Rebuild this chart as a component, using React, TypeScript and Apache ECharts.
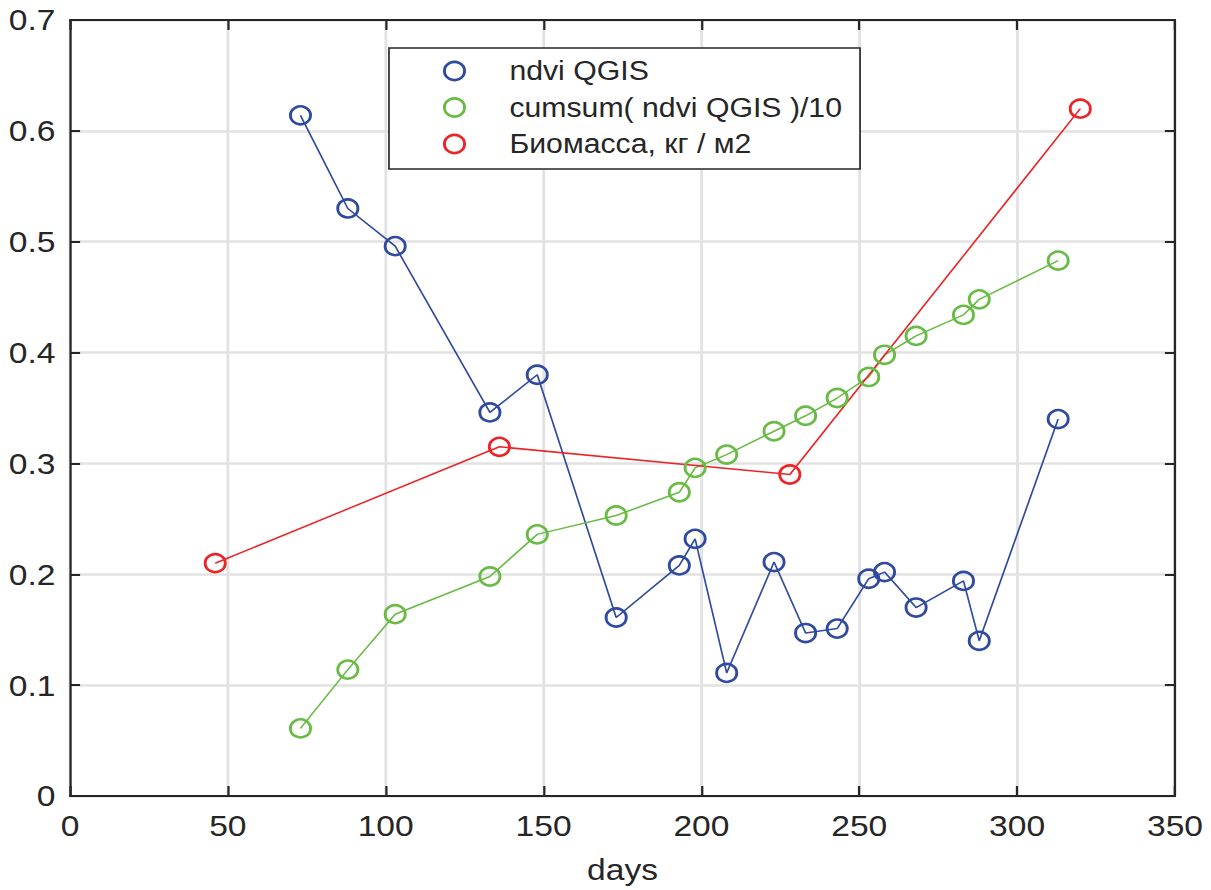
import React, { useEffect, useRef } from "react";
import * as echarts from "echarts";

// Observation days and values
const days = [73, 88, 103, 133, 148, 173, 193, 198, 208, 223, 233, 243, 253, 258, 268, 283, 288, 313];
const ndvi = [0.614, 0.53, 0.496, 0.346, 0.38, 0.161, 0.208, 0.232, 0.111, 0.211, 0.147, 0.151, 0.196, 0.202, 0.17, 0.194, 0.14, 0.34];
const ndviCumsum10 = [0.061, 0.114, 0.164, 0.198, 0.236, 0.253, 0.274, 0.296, 0.308, 0.329, 0.343, 0.359, 0.378, 0.398, 0.415, 0.434, 0.448, 0.483];
const biomassDays = [46, 136, 228, 320];
const biomass = [0.21, 0.315, 0.29, 0.62];

const seriesNames = ["ndvi QGIS", "cumsum( ndvi QGIS )/10", "Биомасса, кг / м2"];
const seriesColors = ["#2f4a9e", "#68bb45", "#ec2427"];

const xAxisName = "days";

// the figure is rendered slightly narrower and stretched horizontally
const STRETCH = 1.12;
const CHART_W = Math.round(1211 / STRETCH);
const CHART_H = 890;

const FONT = "'Liberation Sans', Arial, Helvetica, sans-serif";
const INK = "#262626";
const GRID = "#e2e2e2";

function pairs(xs: number[], ys: number[]) {
  return xs.map((x, i) => [x, ys[i]]);
}

export default function App() {
  const ref = useRef<HTMLDivElement>(null);

  useEffect(() => {
    if (!ref.current) return;
    const chart = echarts.init(ref.current, null, { renderer: "svg" });

    const boxAxis = {
      axisLine: { show: true, onZero: false, lineStyle: { color: INK, width: 2 } },
      axisTick: { show: true, inside: true, length: 10, lineStyle: { color: INK, width: 2 } },
      axisLabel: { show: false },
      splitLine: { show: false },
    };

    const makeSeries = (i: number, data: number[][]) => ({
      name: seriesNames[i],
      type: "line",
      xAxisIndex: 0,
      yAxisIndex: 0,
      data,
      symbol: "circle",
      symbolSize: 18,
      showAllSymbol: true,
      lineStyle: { color: seriesColors[i], width: 1.5 },
      itemStyle: { color: "rgba(0,0,0,0)", borderColor: seriesColors[i], borderWidth: 2.6 },
      emphasis: { disabled: true },
    });

    chart.setOption({
      animation: false,
      backgroundColor: "#ffffff",
      textStyle: { fontFamily: FONT },
      grid: { left: 62.5, right: CHART_W - 1049.1, top: 20, bottom: 93, containLabel: false },
      legend: {
        orient: "vertical",
        left: 347.3,
        top: 48,
        padding: [9.5, 16, 11.5, 48.2],
        itemGap: 9.5,
        itemWidth: 18,
        itemHeight: 18,
        backgroundColor: "#ffffff",
        borderColor: INK,
        borderWidth: 1.5,
        borderRadius: 0,
        selectedMode: false,
        textStyle: { fontFamily: FONT, fontSize: 27, color: INK, padding: [0, 0, 0, 35] },
        data: seriesNames.map((n, i) => ({
          name: n,
          icon: "circle",
          itemStyle: { color: "rgba(0,0,0,0)", borderColor: seriesColors[i], borderWidth: 2.6 },
        })),
      },
      xAxis: [
        {
          type: "value",
          position: "bottom",
          min: 0,
          max: 350,
          interval: 50,
          name: xAxisName,
          nameLocation: "middle",
          nameGap: 59,
          nameTextStyle: { fontFamily: FONT, fontSize: 30, color: INK },
          axisLine: { show: true, onZero: false, lineStyle: { color: INK, width: 2 } },
          axisTick: { show: true, inside: true, length: 10, lineStyle: { color: INK, width: 2 } },
          axisLabel: { fontFamily: FONT, fontSize: 30, color: INK, margin: 15 },
          splitLine: { show: true, lineStyle: { color: GRID, width: 2.5 } },
        },
        { type: "value", position: "top", min: 0, max: 350, interval: 50, ...boxAxis },
      ],
      yAxis: [
        {
          type: "value",
          position: "left",
          min: 0,
          max: 0.7,
          interval: 0.1,
          axisLine: { show: true, onZero: false, lineStyle: { color: INK, width: 2 } },
          axisTick: { show: true, inside: true, length: 9, lineStyle: { color: INK, width: 2 } },
          axisLabel: { fontFamily: FONT, fontSize: 30, color: INK, margin: 13 },
          splitLine: { show: true, lineStyle: { color: GRID, width: 2.5 } },
        },
        { type: "value", position: "right", min: 0, max: 0.7, interval: 0.1, ...boxAxis, axisTick: { show: true, inside: true, length: 9, lineStyle: { color: INK, width: 2 } } },
      ],
      series: [
        makeSeries(0, pairs(days, ndvi)),
        makeSeries(1, pairs(days, ndviCumsum10)),
        makeSeries(2, pairs(biomassDays, biomass)),
      ],
    });

    return () => chart.dispose();
  }, []);

  return (
    <div style={{ position: "absolute", left: 0, top: 0, width: 1211, height: 890, overflow: "hidden", background: "#fff" }}>
      <div
        ref={ref}
        style={{ width: CHART_W, height: CHART_H, transform: `scaleX(${STRETCH})`, transformOrigin: "0 0" }}
      />
    </div>
  );
}
